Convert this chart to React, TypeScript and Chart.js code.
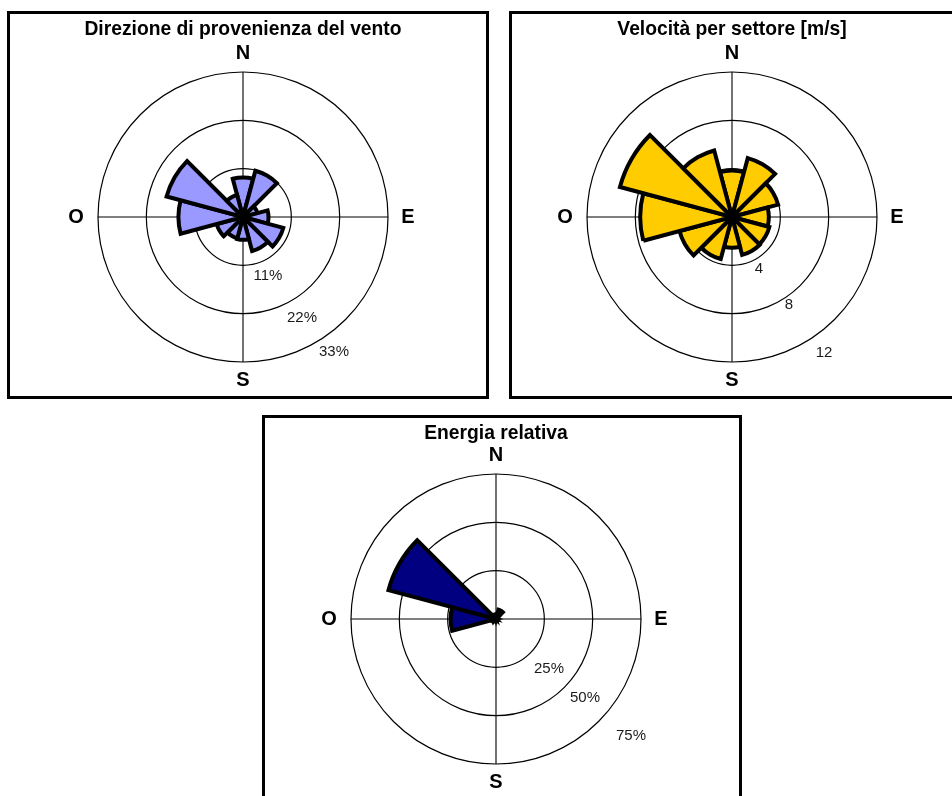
import React, { useEffect, useRef } from 'react';
import { Chart, registerables } from 'chart.js';

Chart.register(...registerables);

// ---- data ----
const sectorLabels = ['N', '30°', '60°', 'E', '120°', '150°', 'S', '210°', '240°', 'O', '300°', '330°'];
const cardinalLabels = ['N', 'E', 'S', 'O'];

const frequencyValues = [9.0, 10.9, 3.4, 5.8, 9.5, 8.0, 5.2, 5.0, 6.2, 14.7, 18.0, 5.2];
const frequencyTicks = [11, 22, 33];
const frequencyTickLabels = ['11%', '22%', '33%'];

const speedValues = [3.85, 5.05, 3.95, 3.05, 3.2, 3.25, 2.55, 3.6, 4.5, 7.6, 9.6, 5.7];
const speedTicks = [4, 8, 12];
const speedTickLabels = ['4', '8', '12'];

const energyValues = [1.5, 5.0, 0.8, 0.6, 1.2, 1.0, 0.3, 0.9, 2.1, 23.5, 57.6, 2.5];
const energyTicks = [25, 50, 75];
const energyTickLabels = ['25%', '50%', '75%'];

const FONT = '"Liberation Sans", Arial, Helvetica, sans-serif';
const TITLE_SIZE = 19.3;
const CARD_SIZE = 20;

const windRosePlugin = {
  id: 'windRose',
  beforeDatasetsDraw(chart: any) {
    const s = chart.scales.r;
    const cx = s.xCenter;
    const cy = s.yCenter;
    const R = s.drawingArea;
    const ctx = chart.ctx;
    ctx.save();
    ctx.strokeStyle = '#000';
    ctx.lineWidth = 1.1;
    ctx.beginPath();
    ctx.moveTo(cx, cy - R);
    ctx.lineTo(cx, cy + R);
    ctx.moveTo(cx - R, cy);
    ctx.lineTo(cx + R, cy);
    ctx.stroke();
    ctx.restore();
  },
  afterDatasetsDraw(chart: any, _args: any, opts: any) {
    const s = chart.scales.r;
    const cx = s.xCenter;
    const cy = s.yCenter;
    const R = s.drawingArea;
    const ctx = chart.ctx;
    ctx.save();
    ctx.fillStyle = '#000';
    ctx.textAlign = 'center';
    ctx.textBaseline = 'middle';
    // title
    ctx.font = `bold ${TITLE_SIZE}px ${FONT}`;
    ctx.fillText(opts.title, cx, opts.titleCenter);
    // cardinal points
    ctx.font = `bold ${CARD_SIZE}px ${FONT}`;
    const [n, e, so, o] = opts.cardinal;
    ctx.fillText(n, cx, cy - R - 19);
    ctx.fillText(so, cx, cy + R + 18);
    ctx.fillText(o, cx - R - 22, cy);
    ctx.fillText(e, cx + R + 20, cy);
    // ring values
    ctx.font = `15px ${FONT}`;
    ctx.fillStyle = '#1a1a1a';
    opts.tickLabels.forEach((lab: string, i: number) => {
      const off = opts.tickOffsets[i];
      ctx.fillText(lab, cx + off[0], cy + off[1]);
    });
    ctx.restore();
  },
};

type Cfg = {
  title: string;
  values: number[];
  ticks: number[];
  tickLabels: string[];
  tickOffsets: number[][];
  fill: string;
  left: number;
  top: number;
  height: number;
  titleCenter: number;
  plotTop: number;
};

const W = 440;
const PLOT = 290;

function Rose({ cfg }: { cfg: Cfg }) {
  const ref = useRef<HTMLCanvasElement>(null);
  useEffect(() => {
    if (!ref.current) return;
    const chart = new Chart(ref.current, {
      type: 'polarArea',
      data: {
        labels: sectorLabels,
        datasets: [
          {
            data: cfg.values,
            backgroundColor: cfg.fill,
            borderColor: '#000',
            borderWidth: 4,
            borderJoinStyle: 'miter',
          } as any,
        ],
      },
      options: {
        responsive: false,
        animation: false,
        layout: {
          padding: {
            left: (W - PLOT) / 2,
            right: (W - PLOT) / 2,
            top: cfg.plotTop,
            bottom: cfg.height - cfg.plotTop - PLOT,
          },
        },
        scales: {
          r: {
            type: 'radialLinear',
            min: 0,
            max: cfg.ticks[cfg.ticks.length - 1],
            startAngle: -15,
            ticks: { display: false, stepSize: cfg.ticks[0] },
            grid: { color: '#000', lineWidth: 1.2, circular: true },
            angleLines: { display: false },
            pointLabels: { display: false },
          } as any,
        },
        plugins: {
          legend: { display: false },
          tooltip: { enabled: false },
          title: { display: false },
          windRose: {
            title: cfg.title,
            titleCenter: cfg.titleCenter,
            cardinal: cardinalLabels,
            tickLabels: cfg.tickLabels,
            tickOffsets: cfg.tickOffsets,
          },
        } as any,
      },
      plugins: [windRosePlugin],
    });
    return () => chart.destroy();
  }, []);
  return (
    <canvas
      ref={ref}
      width={W}
      height={cfg.height}
      style={{ position: 'absolute', left: cfg.left, top: cfg.top, width: W, height: cfg.height }}
    />
  );
}

const charts: Cfg[] = [
  {
    title: 'Direzione di provenienza del vento',
    values: frequencyValues,
    ticks: frequencyTicks,
    tickLabels: frequencyTickLabels,
    tickOffsets: [[25, 59], [59, 101], [91, 135]],
    fill: '#9999FF',
    left: 23,
    top: 14,
    height: 380,
    titleCenter: 15.5,
    plotTop: 58,
  },
  {
    title: 'Velocità per settore [m/s]',
    values: speedValues,
    ticks: speedTicks,
    tickLabels: speedTickLabels,
    tickOffsets: [[27, 52], [57, 88], [92, 136]],
    fill: '#FFCC00',
    left: 512,
    top: 14,
    height: 380,
    titleCenter: 15.5,
    plotTop: 58,
  },
  {
    title: 'Energia relativa',
    values: energyValues,
    ticks: energyTicks,
    tickLabels: energyTickLabels,
    tickOffsets: [[53, 50], [89, 79], [135, 117]],
    fill: '#000080',
    left: 276,
    top: 419,
    height: 377,
    titleCenter: 14.5,
    plotTop: 55,
  },
];

const boxes = [
  { left: 7, top: 11, width: 482, height: 388 },
  { left: 509, top: 11, width: 470, height: 388 },
  { left: 262, top: 415, width: 480, height: 420 },
];

export default function App() {
  return (
    <div
      style={{
        position: 'fixed',
        left: 0,
        top: 0,
        width: 952,
        height: 796,
        overflow: 'hidden',
        background: '#fff',
      }}
    >
      {boxes.map((b, i) => (
        <div
          key={'b' + i}
          style={{
            position: 'absolute',
            left: b.left,
            top: b.top,
            width: b.width,
            height: b.height,
            border: '3px solid #000',
            boxSizing: 'border-box',
          }}
        />
      ))}
      {charts.map((c, i) => (
        <Rose key={i} cfg={c} />
      ))}
    </div>
  );
}
